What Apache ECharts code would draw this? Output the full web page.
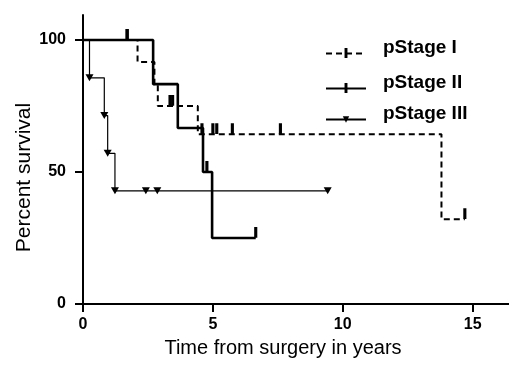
<!DOCTYPE html>
<html>
<head>
<meta charset="utf-8">
<script src="https://cdn.jsdelivr.net/npm/echarts@6/dist/echarts.min.js"></script>
<style>
  html, body { margin: 0; padding: 0; background: #fff; }
  #chart { width: 509px; height: 368px; }
</style>
</head>
<body>
<div id="chart"></div>
<script>
// Kaplan-Meier survival by pathological stage
const seriesNames = ['pStage I', 'pStage II', 'pStage III'];
const xTickValues = [0, 5, 10, 15];
const yTickValues = [0, 50, 100];

// time (years), survival (%), censored flag (1 = censored observation)
const stage1Years    = [0, 1.7, 2.1, 2.75, 2.88, 3.35, 3.45, 4.42, 4.58, 5.0, 5.15, 5.75, 7.6, 13.8, 14.7];
const stage1Survival = [100, 100, 91.7, 83.3, 75, 75, 75, 64.3, 64.3, 64.3, 64.3, 64.3, 64.3, 32.1, 32.1];
const stage1Censored = [0, 1, 0, 0, 0, 1, 1, 0, 1, 1, 1, 1, 1, 0, 1];

const stage2Years    = [0, 1.7, 2.7, 3.65, 4.62, 4.77, 4.97, 6.65];
const stage2Survival = [100, 100, 83.3, 66.7, 50, 50, 25, 25];
const stage2Censored = [0, 1, 0, 0, 0, 1, 0, 1];

const stage3Years    = [0, 0.25, 0.82, 0.95, 1.23, 2.42, 2.86, 9.42];
const stage3Survival = [100, 85.7, 71.4, 57.1, 42.9, 42.9, 42.9, 42.9];
const stage3Marked   = [0, 1, 1, 1, 1, 1, 1, 1];

// Build step-line points; only flagged points carry a symbol
function kmPoints(years, surv, flags) {
  return years.map((t, i) => flags[i]
    ? { value: [t, surv[i]] }
    : { value: [t, surv[i]], symbol: 'none' });
}

// Censor tick: a thin upright bar inside a square box (the empty corner
// sub-paths only pin the box), so it keeps its shape in the legend too.
const tickMark = 'path://M0,0L0,0ZM10,10L10,10ZM3.7,0L6.3,0L6.3,9L3.7,9Z';
const ink = '#000';
const font = 'Liberation Sans, Arial, sans-serif';

const chart = echarts.init(document.getElementById('chart'), null, { renderer: 'canvas' });

const legendTops = [38, 73, 104];
const legendIconHeights = [14, 14, 8];

chart.setOption({
  animation: false,
  backgroundColor: '#fff',
  grid: { left: 83, right: 0, top: 15, bottom: 64, containLabel: false, outerBoundsMode: 'none' },
  legend: seriesNames.map((name, i) => ({
    data: [name],
    orient: 'vertical',
    left: 325,
    top: legendTops[i],
    padding: 0,
    itemWidth: 40,
    itemHeight: legendIconHeights[i],
    selectedMode: false,
    formatter: '{n|{name}}{s| }',
    textStyle: {
      color: ink,
      padding: [0, 0, 0, 12],
      rich: {
        n: { color: ink, fontFamily: font, fontWeight: 'bold', fontSize: 19, lineHeight: 19, verticalAlign: 'top' },
        s: { fontSize: 2, lineHeight: 31 }
      }
    }
  })),
  xAxis: {
    type: 'value',
    min: 0,
    max: 16.4,
    interval: 5,
    name: 'Time from surgery in years',
    nameLocation: 'middle',
    nameGap: 34,
    nameMoveOverlap: false,
    nameTextStyle: {
      color: ink, fontFamily: font, fontSize: 20,
      padding: [0, 26, 0, 0]
    },
    axisLine: { show: true, onZero: false, lineStyle: { color: ink, width: 2 } },
    axisTick: { show: true, length: 8, lineStyle: { color: ink, width: 2 }, customValues: xTickValues },
    axisLabel: {
      color: ink, fontFamily: font, fontWeight: 'bold', fontSize: 16,
      margin: 13, customValues: xTickValues
    },
    splitLine: { show: false }
  },
  yAxis: {
    type: 'value',
    min: 0,
    max: 109.5,
    interval: 50,
    name: 'Percent survival',
    nameLocation: 'middle',
    nameGap: 48,
    nameMoveOverlap: false,
    nameTextStyle: {
      color: ink, fontFamily: font, fontSize: 21,
      padding: [0, 36, 0, 0]
    },
    axisLine: { show: true, onZero: false, lineStyle: { color: ink, width: 2 } },
    axisTick: { show: true, length: 8, lineStyle: { color: ink, width: 2 }, customValues: yTickValues },
    axisLabel: {
      color: ink, fontFamily: font, fontWeight: 'bold', fontSize: 16,
      margin: 17, customValues: yTickValues
    },
    splitLine: { show: false }
  },
  series: [
    {
      name: seriesNames[0],
      type: 'line',
      step: 'end',
      data: kmPoints(stage1Years, stage1Survival, stage1Censored),
      symbol: tickMark,
      symbolSize: 12,
      symbolOffset: [0, -5],
      showAllSymbol: true,
      lineStyle: { color: ink, width: 2, type: [6, 4] },
      itemStyle: { color: ink, borderWidth: 0 },
      z: 2
    },
    {
      name: seriesNames[1],
      type: 'line',
      step: 'end',
      data: kmPoints(stage2Years, stage2Survival, stage2Censored),
      symbol: tickMark,
      symbolSize: 12,
      symbolOffset: [0, -5],
      showAllSymbol: true,
      lineStyle: { color: ink, width: 2.6 },
      itemStyle: { color: ink, borderWidth: 0 },
      z: 3
    },
    {
      name: seriesNames[2],
      type: 'line',
      step: 'end',
      data: kmPoints(stage3Years, stage3Survival, stage3Marked),
      symbol: 'triangle',
      symbolRotate: 180,
      symbolSize: [8, 7],
      showAllSymbol: true,
      lineStyle: { color: ink, width: 1.2 },
      itemStyle: { color: ink, borderWidth: 0 },
      z: 4
    }
  ]
});
</script>
</body>
</html>
